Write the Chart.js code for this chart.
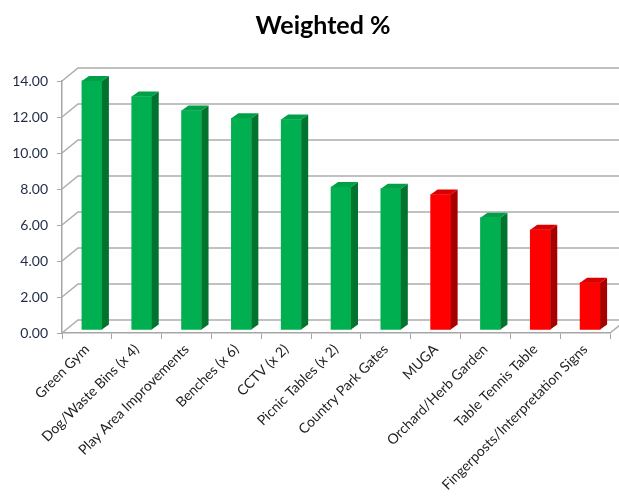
<!DOCTYPE html>
<html><head><meta charset="utf-8">
<script src="https://cdn.jsdelivr.net/npm/chart.js@4.4.0/dist/chart.umd.min.js"></script>
<style>html,body{margin:0;padding:0;background:#fff;}#wrap{width:619px;height:496px;}</style>
</head><body><div id="wrap"><canvas id="c" width="619" height="496"></canvas></div>
<script>
const categories = ["Green Gym","Dog/Waste Bins (x 4)","Play Area Improvements","Benches (x 6)","CCTV (x 2)","Picnic Tables (x 2)","Country Park Gates","MUGA","Orchard/Herb Garden","Table Tennis Table","Fingerposts/Interpretation Signs"];
const weightedValues = [13.84,12.97,12.19,11.76,11.69,7.94,7.85,7.53,6.24,5.57,2.63];
const groups = ["A","A","A","A","A","A","A","B","A","B","B"];
const yTickValues = [0,2,4,6,8,10,12,14];
const chartTitle = "Weighted %";

const palette = {
  A:{front:"#00B050", side:"#00742F", top:"#00A048"},
  B:{front:"#FF0000", side:"#A80000", top:"#DA0000"}
};
const DX=16, DY=-13, SHIFT_X=5, SHIFT_Y=-3, DEPTH_X=7, DEPTH_Y=-5;

const wall3d = {
  id:"wall3d",
  beforeDatasetsDraw(chart){
    const {ctx, chartArea:a, scales:{y}} = chart;
    ctx.save();
    ctx.strokeStyle="#adadad"; ctx.lineWidth=1.5;
    yTickValues.forEach(v=>{
      const py=y.getPixelForValue(v);
      ctx.beginPath();
      ctx.moveTo(a.left,py); ctx.lineTo(a.left+DX,py+DY); ctx.lineTo(chart.width+5,py+DY);
      ctx.stroke();
    });
    const p0=y.getPixelForValue(0);
    ctx.beginPath(); ctx.moveTo(a.right,p0); ctx.lineTo(a.right+DX,p0+DY); ctx.stroke();
    ctx.restore();
    ctx.save();
    ctx.translate(SHIFT_X,SHIFT_Y);
  },
  afterDatasetsDraw(chart){
    const ctx=chart.ctx;
    chart.getDatasetMeta(0).data.forEach((bar,i)=>{
      const {x,y,base,width}=bar.getProps(["x","y","base","width"],true);
      const l=x-width/2, r=x+width/2;
      const c=palette[groups[i]];
      ctx.fillStyle=c.side;
      ctx.beginPath();
      ctx.moveTo(r,y); ctx.lineTo(r+DEPTH_X,y+DEPTH_Y); ctx.lineTo(r+DEPTH_X,base+DEPTH_Y); ctx.lineTo(r,base);
      ctx.closePath(); ctx.fill();
      ctx.fillStyle=c.top;
      ctx.beginPath();
      ctx.moveTo(l,y); ctx.lineTo(l+DEPTH_X,y+DEPTH_Y); ctx.lineTo(r+DEPTH_X,y+DEPTH_Y); ctx.lineTo(r,y);
      ctx.closePath(); ctx.fill();
    });
    ctx.restore();
  },
  afterDraw(chart){
    const ctx=chart.ctx;
    ctx.save();
    ctx.font="bold 25px Lato";
    ctx.fillStyle="#000";
    ctx.textAlign="center"; ctx.textBaseline="middle";
    ctx.fillText(chartTitle,323,26);
    ctx.restore();
  }
};

new Chart(document.getElementById("c"),{
  type:"bar",
  data:{labels:categories,datasets:[{
    label:chartTitle,
    data:weightedValues,
    backgroundColor:groups.map(g=>palette[g].front),
    borderWidth:0,
    barThickness:20,
    clip:false
  }]},
  options:{
    responsive:false, animation:false, devicePixelRatio:1,
    layout:{padding:{left:0,right:9,top:81,bottom:0}},
    plugins:{
      legend:{display:false}, tooltip:{enabled:false}, title:{display:false}
    },
    scales:{
      x:{
        offset:true,
        grid:{display:true,drawOnChartArea:false,drawTicks:true,tickLength:6,color:"#a6a6a6",offset:true},
        border:{display:true,color:"#a6a6a6",width:1.5},
        ticks:{autoSkip:false,maxRotation:45,minRotation:45,color:"#222",padding:2,
          font:{family:"Lato",size:14}},
        afterFit(s){s.height=163;}
      },
      y:{
        min:0,max:14,
        grid:{display:true,drawOnChartArea:false,drawTicks:true,tickLength:5,color:"#a6a6a6"},
        border:{display:true,color:"#a6a6a6",width:1.5},
        ticks:{stepSize:2,color:"#1f2a44",padding:9,font:{family:"Lato",size:14},
          callback:v=>Number(v).toFixed(2)},
        afterFit(s){s.width=62;}
      }
    }
  },
  plugins:[wall3d]
});
</script></body></html>
